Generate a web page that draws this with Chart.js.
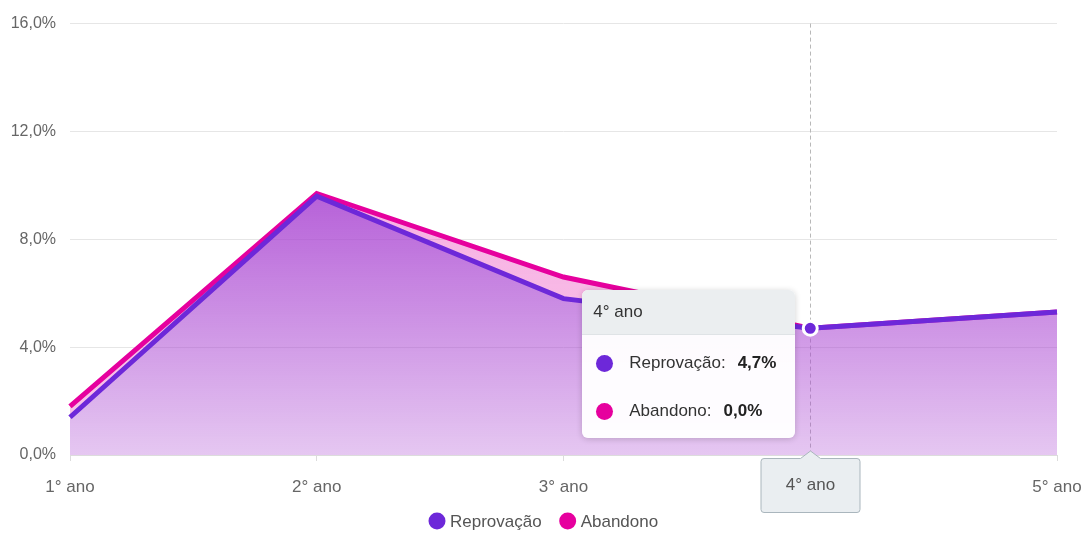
<!DOCTYPE html>
<html lang="pt-BR">
<head>
<meta charset="utf-8">
<title>Reprovação e Abandono por ano</title>
<script src="https://cdn.jsdelivr.net/npm/chart.js@4/dist/chart.umd.min.js"></script>
<style>
    html, body {
        margin: 0;
        padding: 0;
        background: #fff;
    }
    #wrap {
        position: relative;
        width: 1088px;
        height: 534px;
        font-family: Arial, "Liberation Sans", sans-serif;
    }
    .tip {
        position: absolute;
        width: 213px;
        border-radius: 6px;
        background: rgba(255, 255, 255, 0.96);
        box-shadow: 0 1px 6px rgba(0, 0, 0, 0.18);
        overflow: hidden;
        color: #333;
        font-size: 17px;
        pointer-events: none;
    }
    .tip-head {
        height: 44px;
        line-height: 44px;
        padding-left: 11px;
        background: #ebeef0;
        border-bottom: 1px solid #dfe3e6;
    }
    .tip-body {
        padding: 4px 0 3px;
    }
    .tip-row {
        height: 48px;
        display: flex;
        align-items: center;
    }
    .tip-dot {
        width: 17px;
        height: 17px;
        border-radius: 50%;
        margin: 0 16px 0 14px;
    }
    .tip-row b {
        margin-left: 12px;
        color: #222;
    }
</style>
</head>
<body>
<div id="wrap">
    <canvas id="taxas-chart"></canvas>
</div>
<script>
const anos = ["1° ano", "2° ano", "3° ano", "4° ano", "5° ano"];
const reprovacao = [1.4, 9.6, 5.8, 4.7, 5.3];
const abandono = [0.4, 0.1, 0.8, 0.0, 0.0];
const yTicks = [0, 4, 8, 12, 16];

const corReprovacao = "#6d28d9";
const corAbandono = "#e6009e";
const anoAtivo = 3;

const fonte = "Arial, 'Liberation Sans', sans-serif";

function formatPct(v) {
    return v.toFixed(1).replace(".", ",") + "%";
}

function gradiente(context, rgb, aTop, aBottom) {
    const { chart } = context;
    const { ctx, chartArea, scales } = chart;
    if (!chartArea) {
        return null;
    }
    const top = scales.y.getPixelForValue(Math.max(...reprovacao));
    const g = ctx.createLinearGradient(0, top, 0, chartArea.bottom);
    g.addColorStop(0, `rgba(${rgb}, ${aTop})`);
    g.addColorStop(1, `rgba(${rgb}, ${aBottom})`);
    return g;
}

// dashed vertical guide at the active year
const crosshair = {
    id: "crosshair",
    beforeDatasetsDraw(chart) {
        const active = chart.tooltip.getActiveElements();
        if (!active.length) return;
        const x = active[0].element.x;
        const { ctx, chartArea } = chart;
        ctx.save();
        ctx.strokeStyle = "#b8b8b8";
        ctx.lineWidth = 1;
        ctx.setLineDash([4, 3]);
        ctx.beginPath();
        ctx.moveTo(Math.round(x) + 0.5, chartArea.top);
        ctx.lineTo(Math.round(x) + 0.5, chartArea.bottom);
        ctx.stroke();
        ctx.restore();
    }
};

// label box under the x axis for the active year, plus the legend
const axisPointer = {
    id: "axisPointer",
    afterDraw(chart) {
        const { ctx, chartArea } = chart;
        const active = chart.tooltip.getActiveElements();
        if (active.length) {
            const x = Math.round(active[0].element.x) + 0.5;
            const w = 99, h = 54;
            const top = chartArea.bottom + 3.5;
            const left = x - w / 2;
            ctx.save();
            ctx.beginPath();
            ctx.moveTo(left + 3, top);
            ctx.lineTo(x - 10, top);
            ctx.lineTo(x, chartArea.bottom - 4);
            ctx.lineTo(x + 10, top);
            ctx.lineTo(left + w - 3, top);
            ctx.quadraticCurveTo(left + w, top, left + w, top + 3);
            ctx.lineTo(left + w, top + h - 3);
            ctx.quadraticCurveTo(left + w, top + h, left + w - 3, top + h);
            ctx.lineTo(left + 3, top + h);
            ctx.quadraticCurveTo(left, top + h, left, top + h - 3);
            ctx.lineTo(left, top + 3);
            ctx.quadraticCurveTo(left, top, left + 3, top);
            ctx.closePath();
            ctx.fillStyle = "#eaeef1";
            ctx.fill();
            ctx.strokeStyle = "#aab6bd";
            ctx.lineWidth = 1;
            ctx.stroke();
            ctx.fillStyle = "#555";
            ctx.font = "17px " + fonte;
            ctx.textAlign = "center";
            ctx.textBaseline = "middle";
            ctx.fillText(chart.data.labels[active[0].index], x, top + h / 2);
            ctx.restore();
        }

        // legend
        ctx.save();
        ctx.font = "17px " + fonte;
        ctx.textBaseline = "middle";
        const items = chart.data.datasets.map(ds => ({
            text: ds.label,
            color: ds.borderColor,
            width: 16 + 5 + ctx.measureText(ds.label).width
        }));
        const gap = 18;
        const total = items.reduce((s, it) => s + it.width, 0) + gap * (items.length - 1);
        let x = Math.round((chart.width - total) / 2);
        const y = 521;
        items.forEach(it => {
            ctx.fillStyle = it.color;
            ctx.beginPath();
            ctx.arc(x + 8, y, 8.5, 0, Math.PI * 2);
            ctx.fill();
            ctx.fillStyle = "#555";
            ctx.textAlign = "left";
            ctx.fillText(it.text, x + 21, y + 1);
            x += it.width + gap;
        });
        ctx.restore();
    }
};

function tooltipExterno(context) {
    const { chart, tooltip } = context;
    const wrap = chart.canvas.parentNode;
    let el = wrap.querySelector(".tip");
    if (!el) {
        el = document.createElement("div");
        el.className = "tip";
        wrap.appendChild(el);
    }
    if (tooltip.opacity === 0) {
        el.style.display = "none";
        return;
    }
    const rows = tooltip.dataPoints.map(dp => `
        <div class="tip-row">
            <span class="tip-dot" style="background:${dp.dataset.borderColor}"></span>
            <span>${dp.dataset.label}:</span>
            <b>${formatPct(dp.raw)}</b>
        </div>`).join("");
    el.innerHTML = `
        <div class="tip-head">${tooltip.title[0]}</div>
        <div class="tip-body">${rows}</div>
    `;
    el.style.display = "block";
    el.style.left = (tooltip.caretX - 15 - el.offsetWidth) + "px";
    el.style.top = (tooltip.caretY - 38) + "px";
}

const chart = new Chart(document.getElementById("taxas-chart"), {
    type: "line",
    data: {
        labels: anos,
        datasets: [
            {
                label: "Reprovação",
                data: reprovacao,
                borderColor: corReprovacao,
                borderWidth: 5,
                backgroundColor: ctx => gradiente(ctx, "170, 70, 210", 0.85, 0.3),
                fill: "origin",
                tension: 0,
                pointRadius: 0,
                pointHoverRadius: 7,
                pointHoverBorderWidth: 3,
                pointHoverBackgroundColor: corReprovacao,
                pointHoverBorderColor: "#fff"
            },
            {
                label: "Abandono",
                data: abandono,
                borderColor: corAbandono,
                borderWidth: 5,
                backgroundColor: ctx => gradiente(ctx, "235, 60, 185", 0.4, 0.3),
                fill: "-1",
                tension: 0,
                pointRadius: 0,
                pointHoverRadius: 7,
                pointHoverBorderWidth: 3,
                pointHoverBackgroundColor: corAbandono,
                pointHoverBorderColor: "#fff"
            }
        ]
    },
    options: {
        responsive: true,
        maintainAspectRatio: false,
        animation: false,
        events: [],
        layout: {
            padding: { top: 22, right: 31, bottom: 0, left: 0 }
        },
        interaction: { mode: "index", intersect: false },
        plugins: {
            legend: { display: false },
            tooltip: {
                enabled: false,
                external: tooltipExterno
            }
        },
        scales: {
            x: {
                offset: false,
                grid: {
                    drawOnChartArea: false,
                    drawTicks: true,
                    tickLength: 6,
                    color: "#dcdcdc"
                },
                border: { display: true, color: "#dcdcdc" },
                ticks: {
                    color: "#666",
                    padding: 16,
                    maxRotation: 0,
                    font: { family: fonte, size: 17 }
                },
                afterFit(scale) {
                    scale.height = 79;
                    scale.paddingLeft = 0;
                    scale.paddingRight = 0;
                }
            },
            y: {
                stacked: true,
                min: 0,
                max: 16,
                grid: {
                    color: "#e6e6e6",
                    drawTicks: false
                },
                border: { display: false },
                afterBuildTicks(scale) {
                    scale.ticks = yTicks.map(v => ({ value: v }));
                },
                ticks: {
                    color: "#666",
                    padding: 14,
                    font: { family: fonte, size: 16 },
                    callback: v => formatPct(v)
                },
                afterFit(scale) {
                    scale.width = 70;
                }
            }
        }
    },
    plugins: [crosshair, axisPointer]
});

const ativos = [
    { datasetIndex: 0, index: anoAtivo },
    { datasetIndex: 1, index: anoAtivo }
];
chart.setActiveElements(ativos);
chart.tooltip.setActiveElements(ativos, { x: 0, y: 0 });
chart.update();
</script>
</body>
</html>
